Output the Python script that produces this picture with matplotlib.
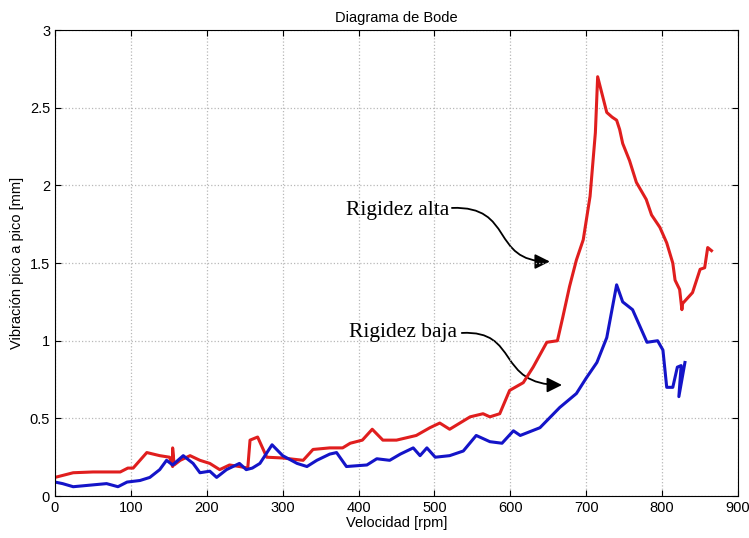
import matplotlib
matplotlib.use('Agg')
import matplotlib.pyplot as plt
from matplotlib.path import Path
from matplotlib.patches import FancyArrowPatch

# Rigidez baja (blue)
baja_rpm = [0, 10, 24, 46, 68, 83, 95, 112, 125, 138, 147, 155, 169, 182, 191, 204,
            213, 226, 243, 252, 260, 270, 286, 300, 319, 332, 345, 362, 371, 384,
            411, 424, 441, 455, 472, 481, 490, 501, 520, 538, 555, 573, 589, 604,
            613, 639, 665, 687, 700, 714, 727, 740, 748, 761, 780, 794, 801, 806,
            814, 820, 825, 822, 830]
baja_vib = [0.09, 0.08, 0.06, 0.07, 0.08, 0.06, 0.09, 0.10, 0.12, 0.17, 0.23, 0.20,
            0.26, 0.21, 0.15, 0.16, 0.12, 0.17, 0.21, 0.17, 0.18, 0.21, 0.33, 0.26,
            0.21, 0.19, 0.23, 0.27, 0.28, 0.19, 0.20, 0.24, 0.23, 0.27, 0.31, 0.26,
            0.31, 0.25, 0.26, 0.29, 0.39, 0.35, 0.34, 0.42, 0.39, 0.44, 0.57, 0.66,
            0.76, 0.86, 1.02, 1.36, 1.25, 1.20, 0.99, 1.00, 0.94, 0.70, 0.70, 0.83,
            0.84, 0.64, 0.86]

# Rigidez alta (red)
alta_rpm = [0, 24, 50, 86, 96, 103, 121, 138, 151, 155, 155, 157, 165, 178, 191, 204,
            217, 230, 243, 254, 257, 267, 279, 300, 327, 340, 362, 379, 389, 405,
            418, 432, 450, 476, 494, 507, 520, 547, 564, 573, 586, 599, 617, 630,
            648, 662, 669, 678, 687, 696, 705, 712, 715, 727, 734, 740, 744, 748,
            757, 766, 779, 786, 797, 806, 814, 817, 823, 826, 827, 840, 850, 856,
            860, 865]
alta_vib = [0.12, 0.15, 0.155, 0.155, 0.18, 0.18, 0.28, 0.26, 0.25, 0.19, 0.31, 0.20,
            0.23, 0.26, 0.23, 0.21, 0.17, 0.20, 0.19, 0.18, 0.36, 0.38, 0.25, 0.245,
            0.23, 0.30, 0.31, 0.31, 0.34, 0.36, 0.43, 0.36, 0.36, 0.39, 0.44, 0.47,
            0.43, 0.51, 0.53, 0.51, 0.53, 0.68, 0.73, 0.83, 0.99, 1.00, 1.15, 1.35,
            1.52, 1.65, 1.93, 2.34, 2.70, 2.47, 2.44, 2.42, 2.36, 2.27, 2.16, 2.02,
            1.91, 1.81, 1.73, 1.63, 1.50, 1.39, 1.33, 1.20, 1.24, 1.31, 1.46, 1.47,
            1.60, 1.58]

plt.rcParams['font.family'] = ['Liberation Sans', 'DejaVu Sans']

fig = plt.figure(figsize=(7.49, 5.38), dpi=100)
ax = fig.add_axes([0.0734, 0.078, 0.912, 0.866])

ax.plot(alta_rpm, alta_vib, color='#e01e1e', lw=2.2)
ax.plot(baja_rpm, baja_vib, color='#1414c8', lw=2.2)

ax.set_xlim(0, 900)
ax.set_ylim(0, 3)
ax.set_xticks(range(0, 901, 100))
ax.set_yticks([0, 0.5, 1, 1.5, 2, 2.5, 3])
ax.set_yticklabels(['0', '0.5', '1', '1.5', '2', '2.5', '3'])
ax.grid(True, linestyle=':', color='#b8b8b8', lw=0.9)
ax.tick_params(direction='in', top=True, right=True, labelsize=10.5, length=4)
for s in ax.spines.values():
    s.set_linewidth(0.8)

ax.set_title('Diagrama de Bode', fontsize=10.5, pad=6)
ax.set_xlabel('Velocidad [rpm]', fontsize=10.5, labelpad=1)
ax.set_ylabel('Vibración pico a pico [mm]', fontsize=10.5, labelpad=4)

# annotations with S-shaped arrows
serif = ['Liberation Serif', 'DejaVu Serif']
ax.text(519, 1.84, 'Rigidez alta', family=serif, fontsize=15.5, ha='right', va='center')
ax.text(530, 1.056, 'Rigidez baja', family=serif, fontsize=15.5, ha='right', va='center')

arrows = [
    [(523, 1.855), (606, 1.87), (573, 1.51), (652, 1.51)],
    [(536, 1.05), (613, 1.07), (580, 0.715), (668, 0.715)],
]
for pts in arrows:
    p = Path(pts, [Path.MOVETO, Path.CURVE4, Path.CURVE4, Path.CURVE4])
    arr = FancyArrowPatch(path=p, arrowstyle='-|>,head_length=9,head_width=4.5',
                          color='black', lw=1.3, transform=ax.transData)
    ax.add_patch(arr)

fig.savefig('out.png', dpi=100)
